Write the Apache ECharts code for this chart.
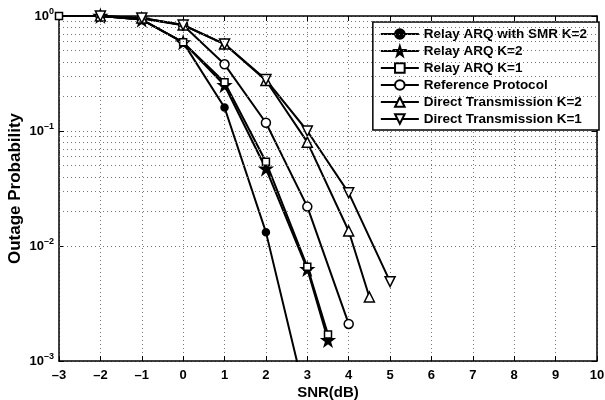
<!DOCTYPE html>
<html>
<head>
<meta charset="utf-8">
<script src="https://cdn.jsdelivr.net/npm/echarts@6/dist/echarts.min.js"></script>
<style>
html, body { margin: 0; padding: 0; background: #fff; }
#chart { width: 605px; height: 400px; }
</style>
</head>
<body>
<div id="chart"></div>
<script>
// data
var smrK2X = [-2, -1, 0, 1, 2, 3];
var smrK2Y = [1, 0.93, 0.59, 0.16, 0.0132, 0.00042];
var arqK2X = [-2, -1, 0, 1, 2, 3, 3.5];
var arqK2Y = [1, 0.93, 0.59, 0.25, 0.047, 0.0063, 0.00152];
var arqK1X = [-3, -2, -1, 0, 1, 2, 3, 3.5];
var arqK1Y = [1, 1, 0.93, 0.59, 0.265, 0.054, 0.0066, 0.0017];
var refX = [-2, -1, 0, 1, 2, 3, 4];
var refY = [1, 0.95, 0.83, 0.38, 0.118, 0.022, 0.0021];
var dtK2X = [-2, -1, 0, 1, 2, 3, 4, 4.5];
var dtK2Y = [1, 0.96, 0.835, 0.57, 0.275, 0.08, 0.0135, 0.0036];
var dtK1X = [-2, -1, 0, 1, 2, 3, 4, 5];
var dtK1Y = [1, 0.96, 0.835, 0.57, 0.28, 0.1, 0.029, 0.0049];
var names = ['Relay ARQ with SMR K=2', 'Relay ARQ K=2', 'Relay ARQ K=1',
  'Reference Protocol', 'Direct Transmission K=2', 'Direct Transmission K=1'];
var minorGrid = [0.002, 0.003, 0.004, 0.005, 0.006, 0.007, 0.008, 0.009,
  0.02, 0.03, 0.04, 0.05, 0.06, 0.07, 0.08, 0.09,
  0.2, 0.3, 0.4, 0.5, 0.6, 0.7, 0.8, 0.9];

function pairs(xs, ys) {
  return xs.map(function (x, i) { return [x, ys[i]]; });
}

var star = 'path://M50,0 L61,35 L98,35 L68,57 L79,91 L50,70 L21,91 L32,57 L2,35 L39,35 Z';
var font = 'Liberation Sans, Arial, sans-serif';
var dotted = { color: '#777', width: 1, type: [1, 3] };

function line(name, xs, ys, symbol, size, filled, rotate) {
  return {
    name: name,
    type: 'line',
    data: pairs(xs, ys),
    symbol: symbol,
    symbolSize: size,
    symbolRotate: rotate || 0,
    showAllSymbol: true,
    lineStyle: { color: '#000', width: 2 },
    itemStyle: { color: filled ? '#000' : '#fff', borderColor: '#000', borderWidth: 1.5 },
    emphasis: { disabled: true },
    z: 3
  };
}

var frame = { onZero: false, lineStyle: { color: '#000', width: 1.5 } };
var tick = { inside: true, length: 5, lineStyle: { color: '#000' } };

var chart = echarts.init(document.getElementById('chart'));
var option = {
  animation: false,
  backgroundColor: '#fff',
  textStyle: { fontFamily: font },
  grid: { left: 59, right: 8, top: 16, bottom: 39, containLabel: false, outerBoundsMode: 'none' },
  legend: {
    data: names,
    orient: 'vertical',
    right: 6,
    top: 22,
    itemWidth: 38,
    itemHeight: 12,
    itemGap: 1,
    padding: [4, 12, 3, 7],
    backgroundColor: '#fff',
    borderColor: '#000',
    borderWidth: 1.5,
    borderRadius: 0,
    textStyle: { fontSize: 13.5, fontWeight: 'bold', color: '#000', fontFamily: font, lineHeight: 16 }
  },
  xAxis: [{
    type: 'value', min: -3, max: 10, interval: 1,
    name: 'SNR(dB)', nameLocation: 'middle', nameGap: 24, nameMoveOverlap: false,
    nameTextStyle: { fontSize: 15, fontWeight: 'bold', color: '#000' },
    axisLine: frame,
    axisTick: tick,
    axisLabel: { color: '#000', fontSize: 13, fontWeight: 'bold', margin: 8,
      formatter: function (v) { return String(v).replace('-', '\u2013'); } },
    splitLine: { show: true, lineStyle: dotted }
  }, {
    type: 'value', min: -3, max: 10, interval: 1, position: 'top',
    axisLine: frame, axisTick: tick,
    axisLabel: { show: false }, splitLine: { show: false }
  }],
  yAxis: [{
    type: 'log', logBase: 10, min: 0.001, max: 1,
    name: 'Outage Probability', nameLocation: 'middle', nameGap: 35, nameMoveOverlap: false,
    nameTextStyle: { fontSize: 17, fontWeight: 'bold', color: '#000' },
    axisLine: frame,
    axisTick: tick,
    axisLabel: {
      color: '#000', fontSize: 13, fontWeight: 'bold', margin: 5,
      formatter: function (v) {
        var e = Math.round(Math.log10(v));
        return '10{s|' + (e < 0 ? '\u2013' + (-e) : e) + '}';
      },
      rich: { s: { fontSize: 9, fontWeight: 'bold', color: '#000', verticalAlign: 'top', padding: [0, 0, 8, 0] } }
    },
    splitLine: { show: true, lineStyle: dotted }
  }, {
    type: 'log', logBase: 10, min: 0.001, max: 1, position: 'right',
    axisLine: frame, axisTick: tick,
    axisLabel: { show: false }, splitLine: { show: false }
  }],
  series: [
    {
      name: 'grid', type: 'line', data: [], z: 1, silent: true,
      markLine: {
        silent: true, symbol: 'none', animation: false,
        label: { show: false },
        lineStyle: dotted,
        data: minorGrid.map(function (v) { return { yAxis: v }; })
      }
    },
    line(names[0], smrK2X, smrK2Y, 'circle', 7, true),
    line(names[1], arqK2X, arqK2Y, star, 12, true),
    line(names[2], arqK1X, arqK1Y, 'rect', 7, false),
    line(names[3], refX, refY, 'circle', 9, false),
    line(names[4], dtK2X, dtK2Y, 'triangle', 10, false),
    line(names[5], dtK1X, dtK1Y, 'triangle', 10, false, 180)
  ]
};
chart.setOption(option);
</script>
</body>
</html>
